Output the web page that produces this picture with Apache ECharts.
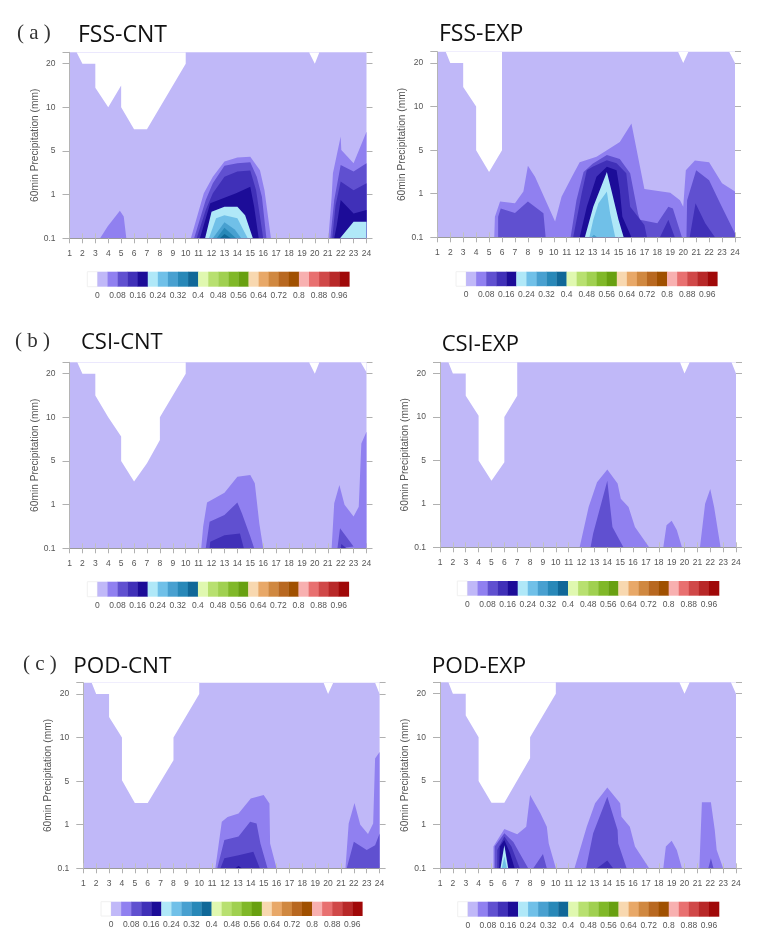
<!DOCTYPE html>
<html><head><meta charset="utf-8">
<style>html,body{margin:0;padding:0;background:#fff}#c{width:761px;height:934px}</style>
<script src="https://cdn.jsdelivr.net/npm/echarts@6/dist/echarts.min.js"></script>
</head><body><div id="c"></div>
<script>
// Tick labels. Contours are read off the picture as [hour, level index], where
// level index counts the evenly spaced thresholds below (0 = 0.1 mm ... 4 = 20 mm).
const hours = Array.from({length:24},(_,i)=>i+1);
const thresholds = ['0.1','1','5','10','20'];
const colorbarLabels = ['0','0.08','0.16','0.24','0.32','0.4','0.48','0.56','0.64','0.72','0.8','0.88','0.96'];
const bandColors = ['#ffffff','#c0b8f8','#9080f0','#6050d0','#4030b8','#1c0c98','#b0e8f8','#70c0e8','#48a0d0','#2888b8','#106898',
 '#e0f8b0','#b8e070','#a0d050','#80b828','#68a010','#f8d8b0','#e8a868','#d08840','#b86820','#a05000','#f8b0b0','#e87070','#d04848','#b82828','#a00808'];
const TOP = 4.26;

// FSS-CNT
const fssCntMissing = [[1.55,TOP],[2,4],[3,4],[3,3.45],[4,3],[5,3.5],[5,3],[6,2.5],[7,2.5],[10,4],[10,TOP],[19.55,TOP],[20,4],[20.35,TOP]];
const fssCnt04 = [[3.37,0],[3.95,.27],[4.9,.63],[5.2,.5],[5.4,0],[10.4,0],[11.4,1.03],[12.1,1.41],[13,1.76],[14,1.85],[15,1.87],[15.75,1.56],[16.1,1.1],[16.6,0],[21.05,0],[21.3,.95],[21.4,1.49],[22,2.33],[22.05,2.02],[23,1.72],[24,2.44]];
const fssCnt08 = [[10.65,0],[11.55,.88],[12.1,1.26],[13,1.66],[14,1.72],[15,1.74],[15.5,1.41],[15.9,.95],[16.25,0],[21.2,0],[21.5,.88],[22,1.68],[23,1.53],[24,1.72]];
const fssCnt12 = [[10.85,0],[11.55,.65],[12.1,1.03],[13,1.41],[14,1.53],[15,1.55],[15.45,1.1],[16,0],[21.35,0],[21.6,.75],[22,1.3],[23,1.1],[24,1.26]];
const fssCnt16 = [[11.1,0],[11.9,.8],[12.9,.92],[13.9,1.03],[15,1.18],[15.3,.72],[15.65,0],[21.5,0],[21.7,.3],[22,.88],[23,.57],[24,.65]];
const fssCnt20 = [[11.5,0],[12,.61],[13,.72],[14,.72],[14.6,.53],[15.2,0],[21.95,0],[23,.38],[24,.38]];
const fssCnt24 = [[11.8,0],[12.35,.46],[13,.53],[14,.46],[14.8,0]];
const fssCnt28 = [[12.1,0],[13,.37],[13.8,.2],[14.3,0]];
const fssCnt32 = [[12.4,0],[13,.24],[13.9,0]];
const fssCnt36 = [[12.65,0],[13,.1],[13.5,0]];

// FSS-EXP
const fssExpMissing = [[1.65,TOP],[2,4],[3,4],[3,3.45],[4,3],[4,2],[5,1.5],[6,2],[6,TOP],[19.6,TOP],[20,4],[20.4,TOP],[23.55,TOP],[24,4]];
const fssExp04 = [[5.4,0],[5.45,.47],[5.85,.82],[7,.78],[7.65,1.05],[8,1.64],[8.55,1.39],[10.1,.36],[10.6,.93],[11.4,1.39],[12,1.72],[13.3,1.85],[14.1,2],[15.1,2.19],[16,2.61],[17,1.11],[19,1.02],[19.75,.85],[20,.7],[20.2,1.54],[20.9,1.76],[22,1.72],[23,1.24],[24,1.05]];
const fssExp08 = [[5.7,0],[5.7,.47],[5.9,.66],[7,.56],[8,.82],[9.2,.55],[9.37,0],[11.3,0],[11.75,.85],[12.3,1.5],[13,1.69],[14.1,1.89],[15.1,1.8],[15.9,1.47],[16.5,.55],[16.65,.4],[18,.32],[18.85,.7],[19.2,.66],[19.9,0],[20.25,0],[20.3,.85],[21,1.54],[22,1.31],[22.85,.78],[24,.09]];
const fssExp12 = [[11.5,0],[12.15,1],[12.55,1.54],[13,1.62],[14.1,1.77],[14.85,1.7],[15.6,1.47],[15.9,.7],[17,.28],[17.2,0],[18.2,0],[18.85,.4],[19.35,0],[20.5,0],[20.95,.78],[21.7,.32],[22.45,0]];
const fssExp16 = [[12,0],[12.55,.7],[13.3,1.39],[14.1,1.62],[14.85,1.54],[15.1,1.08],[15.3,.47],[16,0]];
const fssExp20 = [[12.4,0],[13.05,.7],[13.55,1.08],[14.1,1.5],[14.45,1.08],[15,.4],[15.4,0]];
const fssExp24 = [[12.75,0],[13.05,.4],[13.45,.78],[14.1,1.05],[14.35,.55],[14.75,0]];
const fssExp28 = [[12.9,0],[13.1,.06],[13.35,0]];

// CSI-CNT
const csiCntMissing = [[1.6,TOP],[2,4],[3,4],[3,3.5],[4,3],[5,2.56],[5,2],[6,1.53],[7,1.95],[8,2.48],[8,3],[9,3.5],[10,4],[10,TOP],[19.55,TOP],[20,4],[20.35,TOP],[23.55,TOP],[24,4.03]];
const csiCnt04 = [[11.2,0],[11.35,.5],[11.65,1.05],[13,1.27],[14,1.64],[15,1.68],[15.35,1.49],[15.7,.57],[16,0],[21.3,0],[21.5,1.03],[21.9,1.45],[22.3,1],[23,.73],[23.4,.95],[23.6,2.4],[24,2.67]];
const csiCnt08 = [[11.55,0],[11.85,.61],[13,.76],[14,1.05],[14.35,.8],[15,.27],[15.3,0],[21.75,0],[21.95,.46],[23,.04],[23.1,0]];
const csiCnt12 = [[11.85,0],[11.9,.15],[13,.3],[14.2,.34],[14.5,0],[22,0],[22.05,.1],[22.45,0]];

// CSI-EXP
const csiExpMissing = [[1.65,TOP],[2,4],[3,4],[3,3.49],[4,3.03],[4,2],[5,1.53],[6,1.96],[6,3],[7,3.49],[7,TOP],[19.65,TOP],[20,4],[20.4,TOP],[23.65,TOP],[24,4]];
const csiExp04 = [[11.85,0],[12.55,.93],[13.2,1.5],[14,1.79],[14.8,1.47],[15.05,1.12],[15.65,.93],[16.15,.47],[17.25,0],[18.35,0],[18.6,.51],[19,.61],[19.4,.4],[19.8,0],[21.2,0],[21.6,1],[22,1.34],[22.3,.93],[22.8,0]];
const csiExp08 = [[12.7,0],[12.9,.32],[14,1.53],[14.4,.47],[15.25,0]];

// POD-CNT
const podCntMissing = [[1.65,TOP],[2,4],[3,4],[3,3.47],[4,3],[4,2.02],[5,1.5],[6,1.5],[8,2.48],[8,3],[10,4],[10,TOP],[19.65,TOP],[20,4],[20.4,TOP],[23.65,TOP],[24,4]];
const podCnt04 = [[11.25,0],[11.75,1.07],[12.2,1.18],[13.05,1.26],[14,1.6],[15,1.68],[15.45,1.49],[15.5,.57],[16,0],[21.35,0],[21.6,1.03],[22.05,1.5],[22.5,1],[23.1,.79],[23.5,1.03],[23.65,2.52],[24,2.67]];
const podCnt08 = [[11.4,0],[11.95,.65],[13.05,.73],[13.95,1.07],[14.45,1.03],[14.75,.57],[15.3,0],[21.45,0],[22,.61],[23,.42],[23.65,.53],[24,.8]];
const podCnt12 = [[11.65,0],[11.95,.23],[13.05,.3],[14.2,.38],[14.7,0]];
const podCnt16 = [[12.8,0],[13.05,.05],[13.3,0]];

// POD-EXP
const podExpMissing = [[1.65,TOP],[2,4],[3,4],[3,3.5],[4,3],[4,2],[5,1.5],[6,1.5],[8,2.52],[8,3],[10,4],[10,TOP],[19.6,TOP],[20,4],[20.4,TOP],[23.6,TOP],[24,4]];
const podExp04 = [[5.15,0],[5.15,.5],[6,.9],[7,.78],[7.7,.95],[8,1.68],[8.8,1.26],[9.3,.95],[9.45,.57],[10,0],[11.45,0],[12.4,.95],[13.05,1.49],[14,1.85],[15,1.49],[15.1,1.18],[15.75,.95],[16.15,.5],[17.25,0],[18.35,0],[18.55,.5],[19,.63],[19.4,.42],[19.8,0],[21.15,0],[21.35,1.51],[22.05,1.51],[22.35,.88],[22.5,.42],[23,0]];
const podExp08 = [[5.25,0],[5.25,.5],[6,.8],[6.7,.6],[7.2,.34],[7.85,0],[8.25,0],[9,.33],[9.3,0],[12.35,0],[12.9,.8],[14,1.64],[14.8,.88],[14.85,.57],[15.5,0],[21.85,0],[22.05,.23],[22.25,0]];
const podExp12 = [[5.45,0],[5.45,.42],[6,.73],[6.55,.5],[7.2,0],[13.2,0],[14,.18],[14.45,0]];
const podExp16 = [[5.6,0],[5.65,.5],[6,.65],[6.45,.34],[6.8,0]];
const podExp20 = [[5.7,0],[6,.53],[6.3,0]];
const podExp24 = [[5.8,0],[6,.27],[6.2,0]];

// name, missing region, contours from band 2 upward
const panels = [
 {t:'FSS-CNT',m:fssCntMissing,c:[fssCnt04,fssCnt08,fssCnt12,fssCnt16,fssCnt20,fssCnt24,fssCnt28,fssCnt32,fssCnt36],
  g:[69.5,52.3,297,186],cb:[87.3,271.7,262,15],tx:78,ty:35,fs:23,lb:'(a)',lx:17,ly:32,yn:27},
 {t:'FSS-EXP',m:fssExpMissing,c:[fssExp04,fssExp08,fssExp12,fssExp16,fssExp20,fssExp24,fssExp28],
  g:[437.3,51.7,297.7,185.6],cb:[456,271.7,261.3,14.5],tx:439,ty:34,fs:23,yn:26.8},
 {t:'CSI-CNT',m:csiCntMissing,c:[csiCnt04,csiCnt08,csiCnt12],
  g:[69.5,362.3,297,186],cb:[87.3,581.7,261.5,15],tx:81,ty:341.7,fs:22,lb:'(b)',lx:15,ly:340,yn:27},
 {t:'CSI-EXP',m:csiExpMissing,c:[csiExp04,csiExp08],
  g:[440,362.3,296,185],cb:[457.3,581,261.7,14.7],tx:441.7,ty:344.3,fs:22,yn:25.8},
 {t:'POD-CNT',m:podCntMissing,c:[podCnt04,podCnt08,podCnt12,podCnt16],
  g:[83.3,682.7,296.3,185.6],cb:[101,901.7,261.3,14.3],tx:73.3,ty:665,fs:22.5,lb:'(c)',lx:23,ly:663,yn:26.8},
 {t:'POD-EXP',m:podExpMissing,c:[podExp04,podExp08,podExp12,podExp16,podExp20,podExp24],
  g:[440,682.3,296,186],cb:[457.7,901.7,261.3,15],tx:431.7,ty:665,fs:22.7,yn:26.8}
];

const FONT='Liberation Sans', TXT='#555', AX='#9a9a9a';
const grid=[],xAxis=[],yAxis=[],series=[],title=[];
panels.forEach(p=>{
  const gi=grid.length, [l,t,w,h]=p.g;
  grid.push({left:l,top:t,width:w,height:h,show:true,backgroundColor:bandColors[1],borderWidth:0,containLabel:false});
  const xi=xAxis.length, yi=yAxis.length;
  xAxis.push({type:'value',gridIndex:gi,position:'bottom',min:1,max:24,interval:1,
    axisLine:{lineStyle:{color:AX}},axisTick:{length:5,lineStyle:{color:'#b0b0b0'}},splitLine:{show:false},
    axisLabel:{margin:11,fontFamily:FONT,fontSize:8.5,color:TXT,formatter:v=>String(hours[v-1]),showMinLabel:true,showMaxLabel:true}});
  xAxis.push({type:'value',gridIndex:gi,position:'top',min:1,max:24,interval:1,
    axisLine:{lineStyle:{color:AX}},axisTick:{length:5,lineStyle:{color:'#c0c0c0'}},axisLabel:{show:false},splitLine:{show:false}});
  yAxis.push({type:'value',gridIndex:gi,position:'left',min:0,max:TOP,interval:1,name:'60min Precipitation (mm)',nameLocation:'middle',nameGap:p.yn,nameRotate:90,
    nameTextStyle:{fontFamily:FONT,fontSize:10.2,color:TXT},
    axisLine:{lineStyle:{color:'#b4b4b4'}},axisTick:{length:7,lineStyle:{color:'#b0b0b0'}},splitLine:{show:false},
    axisLabel:{margin:14,fontFamily:FONT,fontSize:8.5,color:TXT,formatter:v=>thresholds[v]||''}});
  yAxis.push({type:'value',gridIndex:gi,position:'right',min:0,max:TOP,interval:1,
    axisLine:{show:false},axisTick:{length:6,lineStyle:{color:'#b0b0b0'}},axisLabel:{show:false},splitLine:{show:false}});
  const area=(name,data,color,origin,z)=>series.push({type:'line',name,xAxisIndex:xi,yAxisIndex:yi,data,showSymbol:false,silent:true,
    animation:false,z,lineStyle:{width:0,color},itemStyle:{color},areaStyle:{color,opacity:1,origin}});
  area(p.t+' <0',p.m,bandColors[0],'end',2);
  p.c.forEach((d,i)=>area(p.t+' band '+(i+2),d,bandColors[i+2],'start',3+i));

  // colour bar
  const [cl,ct,cw,ch]=p.cb, cgi=grid.length;
  grid.push({left:cl,top:ct,width:cw,height:ch,borderWidth:0,show:false});
  const cxi=xAxis.length, cyi=yAxis.length;
  xAxis.push({type:'value',gridIndex:cgi,min:-0.04,max:1,interval:0.04,axisLine:{show:false},axisTick:{show:false},splitLine:{show:false},
    axisLabel:{margin:4,fontFamily:FONT,fontSize:8.5,color:TXT,showMinLabel:false,showMaxLabel:false,hideOverlap:false,
      formatter:v=>{const s=String(+v.toFixed(2));return colorbarLabels.includes(s)?s:'';}}});
  yAxis.push({type:'value',gridIndex:cgi,min:0,max:1,show:false});
  series.push({type:'custom',name:p.t+' colorbar',xAxisIndex:cxi,yAxisIndex:cyi,silent:true,animation:false,clip:false,
    data:bandColors.map((c,i)=>[(i-1)*0.04,i*0.04]),encode:{x:[0,1]},
    renderItem:(par,api)=>{const a=api.coord([api.value(0),0]),b=api.coord([api.value(1),1]),i=par.dataIndex;
      return {type:'rect',shape:{x:a[0],y:b[1],width:b[0]-a[0]+(i?0.3:0),height:a[1]-b[1]},style:{fill:bandColors[i],stroke:i?null:'#f0f0f0',lineWidth:1}};}});

  title.push({text:p.t,left:p.tx,top:p.ty-p.fs*0.46,padding:0,textStyle:{fontFamily:'Open Sans',fontWeight:'normal',fontSize:p.fs,color:'#111'}});
  if(p.lb) title.push({text:p.lb.replace('(','( ').replace(')',' )'),left:p.lx,top:p.ly-9,padding:0,textStyle:{fontFamily:'Liberation Serif',fontWeight:'normal',fontSize:21,color:'#333'}});
});
const chart=echarts.init(document.getElementById('c'),null,{renderer:'canvas'});
chart.setOption({animation:false,backgroundColor:'#fff',grid,xAxis,yAxis,series,title,tooltip:{show:false}});
</script></body></html>
